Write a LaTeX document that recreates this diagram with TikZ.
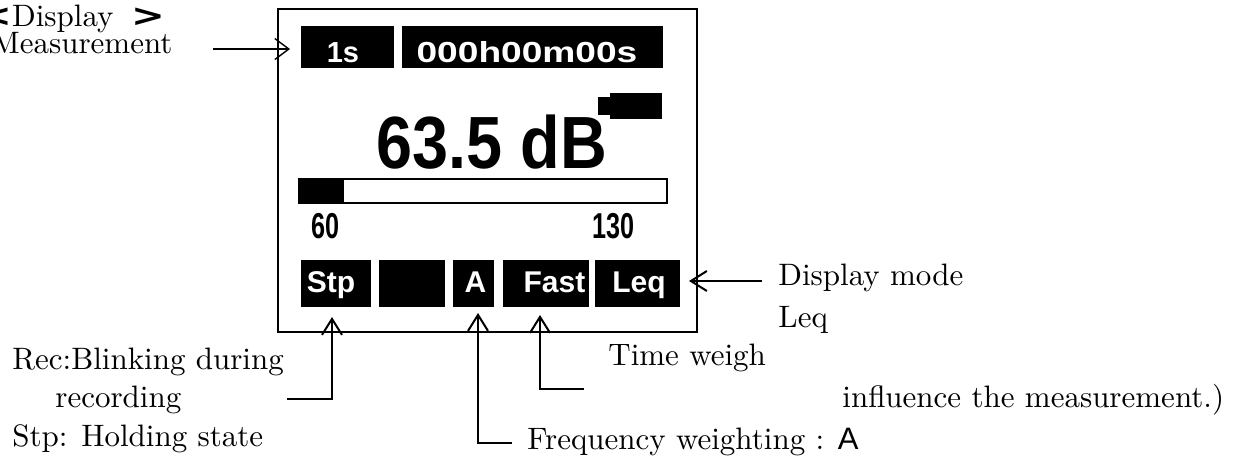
\documentclass[tikz,border=0pt]{standalone}
\usepackage{fontspec}
\setmainfont{lmroman10-regular.otf}[BoldFont=lmroman10-bold.otf]
\newfontfamily\scrfont{Liberation Sans}
\newfontfamily\brkfont{DejaVu Sans}
\newcommand\brk[1]{{\brkfont\bfseries\scalebox{1.3}[1]{#1}}}
\usetikzlibrary{arrows.meta,calc}
\begin{document}
\begin{tikzpicture}[x=0.5pt,y=-0.5pt,
  font=\fontsize{15.5}{18}\selectfont,
  blk/.style={fill=black,draw=none,inner sep=0,outer sep=0},
  lbl/.style={anchor=base west,inner sep=0},
  scrw/.style={text=white,anchor=base,inner sep=0,font=\scrfont\bfseries\fontsize{15}{18}\selectfont},
  scrb/.style={text=black,anchor=base,inner sep=0},
  conn/.style={line width=1pt,-{Straight Barb[length=8pt,width=10pt]}},
  connthin/.style={line width=0.7pt,-{Straight Barb[length=7pt,width=10.5pt]}},
]
\useasboundingbox (0,0) rectangle (1239,461);

% display frame
\draw[line width=1.4pt] (278,9) rectangle (697,332);

% top boxes
\node[blk,minimum width=46.5pt,minimum height=21pt] (b1s) at (347.5,47) {};
\node[blk,minimum width=130.5pt,minimum height=21pt] (btime) at (532.5,47) {};
\node[scrw,font=\scrfont\bfseries\fontsize{14.5}{18}\selectfont] (t1s) at (343,62) {1s};
\node[scrw,font=\scrfont\bfseries\fontsize{14.5}{18}\selectfont] (ttime) at (527,62) {\scalebox{1.28}[1]{000h00m00s}};

% battery-like icon
\node[blk,minimum width=26pt,minimum height=13pt] (icon) at (636,106) {};
\node[blk,minimum width=6pt,minimum height=9pt] (nub) at (604,106) {};

% level value
\node[scrb,font=\scrfont\bfseries\fontsize{37}{40}\selectfont] (level) at (492,168) {\scalebox{0.875}[1]{63.5 dB}};

% bar graph
\draw[line width=1pt] (299,179) rectangle (667,203);
\fill (299,179) rectangle (344,203);
\node[scrb,font=\scrfont\bfseries\fontsize{18}{20}\selectfont] (s60) at (326,238) {\scalebox{0.7}[1]{60}};
\node[scrb,font=\scrfont\bfseries\fontsize{18}{20}\selectfont] (s130) at (613.5,238) {\scalebox{0.7}[1]{130}};

% bottom boxes
\node[blk,minimum width=35pt,minimum height=23.5pt] (bstp) at (336,283.5) {};
\node[blk,minimum width=33pt,minimum height=23.5pt] (bempty) at (412,283.5) {};
\node[blk,minimum width=20.5pt,minimum height=23.5pt] (ba) at (473.5,283.5) {};
\node[blk,minimum width=43pt,minimum height=23.5pt] (bfast) at (546,283.5) {};
\node[blk,minimum width=42.5pt,minimum height=23.5pt] (bleq) at (637.5,283.5) {};
\node[scrw] (tstp) at (331,292) {Stp};
\node[scrw] (ta) at (475.5,292) {A};
\node[scrw] (tfast) at (554.5,292) {Fast};
\node[scrw] (tleq) at (639,292) {Leq};

% labels
\node[lbl] (title) at (-22,26) {\brk{<}Display\hspace{9pt}\brk{>}};
\node[lbl] (meas) at (-9,53) {Measurement};
\node[lbl] (rec1) at (12,369) {Rec:Blinking during};
\node[lbl] (rec2) at (55,407) {recording};
\node[lbl] (rec3) at (12,446) {Stp: Holding state};
\node[lbl] (dm1) at (778,285) {Display mode};
\node[lbl] (dm2) at (778,327) {Leq};
\node[lbl] (tw) at (608,365) {Time weigh};
\node[lbl] (infl) at (842,407) {influence the measurement.)};
\node[lbl] (fw) at (527,449) {Frequency weighting : {\scrfont A}};

% connectors
\coordinate (m0) at (213,49);
\coordinate (s0) at (287,399);
\coordinate (f0) at (584,389);
\coordinate (a0) at (512,443);
\coordinate (l0) at (762,281);
\draw[connthin] (m0) -- ($(b1s.west)+(-11,2)$);
\draw[conn] (s0) -| ($(bstp.south)+(-4,10)$);
\draw[conn] (f0) -| ($(bfast.south)+(-6,8)$);
\draw[conn] (a0) -| ($(ba.south)+(4.5,6)$);
\draw[conn] (l0) -- ($(bleq.east)+(9,-2.5)$);
\end{tikzpicture}
\end{document}
